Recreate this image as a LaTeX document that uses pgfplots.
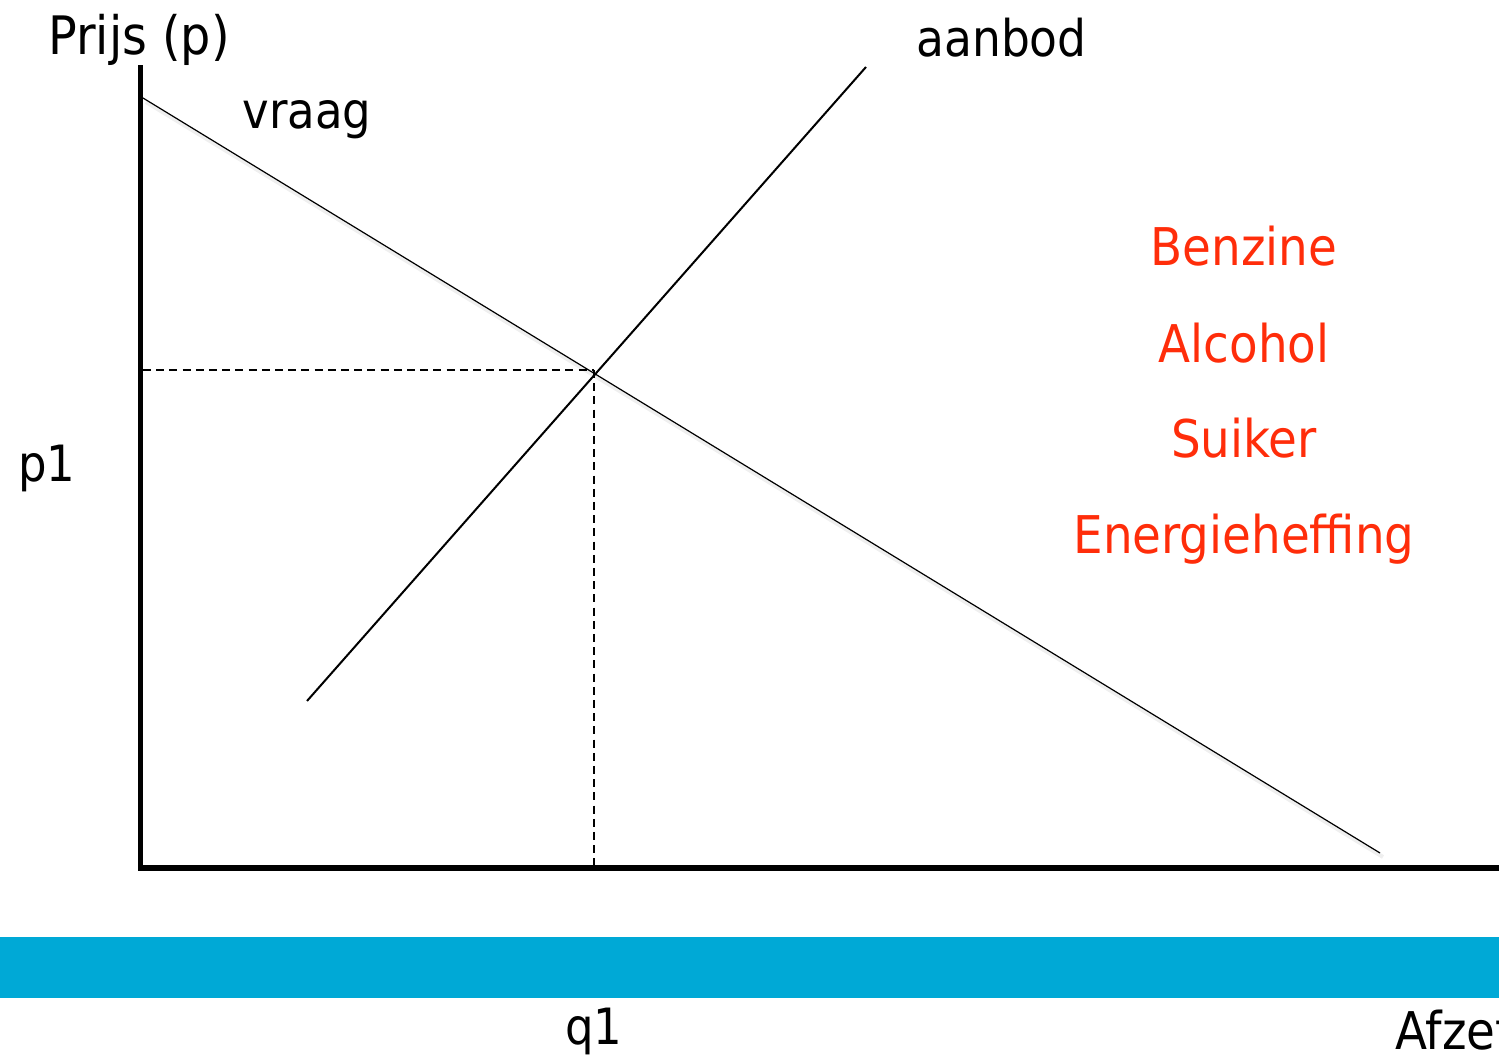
\documentclass[border=0pt]{standalone}
\usepackage{pgfplots}
\pgfplotsset{compat=1.18}
\usepackage{fontspec}
\setmainfont{DejaVu Sans Condensed}
\definecolor{band}{RGB}{0,169,214}
\definecolor{redtxt}{RGB}{255,45,10}
\begin{document}
\begin{tikzpicture}
\useasboundingbox (0,0) rectangle (749.5pt,527.5pt);
\begin{axis}[
  at={(70.25pt,93.5pt)}, anchor=south west,
  scale only axis, width=679.25pt, height=400pt,
  xmin=140.5, xmax=1499, ymin=187, ymax=987,
  axis lines=left, axis line style={-, line width=2.6pt, line cap=rect},
  ticks=none, clip=false,
]
% blue band
\addplot[fill=band, draw=none] coordinates {(0,118) (1499,118) (1499,57) (0,57)};
% shadow of demand
\addplot[gray!18, line width=2pt, opacity=0.7] coordinates {(146,953) (1383,198)};
% demand (vraag)
\addplot[black, line width=0.6pt] coordinates {(143,957) (1380,202)};
% supply (aanbod)
\addplot[black, line width=1pt] coordinates {(307,354) (866,988)};
% dashed guides
\addplot[black, line width=0.9pt, dash pattern=on 4pt off 2.6pt] coordinates {(143,685) (594,685)};
\addplot[black, line width=0.9pt, dash pattern=on 4pt off 2.6pt] coordinates {(594,685) (594,187)};
% labels
\node[anchor=base west, inner sep=0pt, font=\fontsize{26.5}{31}\selectfont] at (axis cs:48,1000) {Prijs (p)};
\node[anchor=base west, inner sep=0pt, font=\fontsize{25}{30}\selectfont] at (axis cs:242,926) {vraag};
\node[anchor=base west, inner sep=0pt, font=\fontsize{25.3}{30}\selectfont] at (axis cs:916,998) {aanbod};
\node[anchor=base west, inner sep=0pt, font=\fontsize{25}{30}\selectfont] at (axis cs:18,573) {p1};
\node[anchor=base west, inner sep=0pt, font=\fontsize{25}{30}\selectfont] at (axis cs:565,11) {q1};
\node[anchor=base west, inner sep=0pt, font=\fontsize{26}{31}\selectfont] at (axis cs:1395,6) {Afzet};
\node[anchor=base, inner sep=0pt, text=redtxt, font=\fontsize{26}{31}\selectfont] at (axis cs:1244,789) {Benzine};
\node[anchor=base, inner sep=0pt, text=redtxt, font=\fontsize{26}{31}\selectfont] at (axis cs:1244,692) {Alcohol};
\node[anchor=base, inner sep=0pt, text=redtxt, font=\fontsize{26}{31}\selectfont] at (axis cs:1244,597) {Suiker};
\node[anchor=base, inner sep=0pt, text=redtxt, font=\fontsize{26}{31}\selectfont] at (axis cs:1244,501) {Energieheffing};
\end{axis}
\end{tikzpicture}
\end{document}
